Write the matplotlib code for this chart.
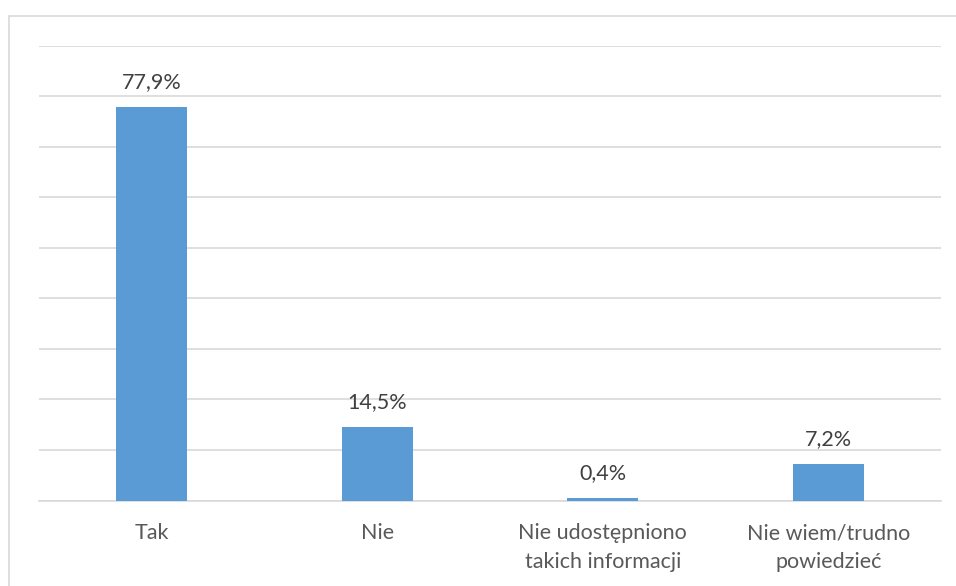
import numpy as np
import matplotlib
matplotlib.use("Agg")
import matplotlib.pyplot as plt
import matplotlib.patches as patches

# data
categories = ["Tak", "Nie", "Nie udostępniono\ntakich informacji", "Nie wiem/trudno\npowiedzieć"]
values = [77.9, 14.5, 0.4, 7.2]
value_labels = ["77,9%", "14,5%", "0,4%", "7,2%"]

plt.rcParams["font.family"] = ["Lato", "DejaVu Sans"]

W, H = 956, 586
fig = plt.figure(figsize=(W / 100, H / 100), dpi=100)

# outer chart frame (only left and top edges visible in the crop)
frame = patches.Rectangle(
    (9 / W, -0.1), 1.2, 1.1 - 16 / H,
    transform=fig.transFigure, fill=False, edgecolor="#d9d9d9", lw=1.2,
    clip_on=False,
)
fig.patches.append(frame)

left, right = 39, 941
top, base = 45.5, 500.5
ax = fig.add_axes([left / W, (H - base) / H, (right - left) / W, (base - top) / H])

x = np.arange(len(categories))
bars = ax.bar(x, values, width=0.315, color="#5b9bd5", zorder=3)

ax.set_xlim(-0.5, len(categories) - 0.5)
ax.set_ylim(0, 90)
ax.set_yticks(np.arange(0, 91, 10))
ax.yaxis.grid(True, color="#d9d9d9", lw=1.2, zorder=0)
ax.tick_params(axis="y", left=False, labelleft=False)
ax.tick_params(axis="x", length=0, pad=16.5, labelsize=15.5, labelcolor="#595959")
ax.set_xticks(x)
ax.set_xticklabels(categories, linespacing=1.55)

for s in ["left", "right", "top"]:
    ax.spines[s].set_visible(False)
ax.spines["bottom"].set_color("#d9d9d9")
ax.spines["bottom"].set_linewidth(1.2)

for xi, v, lab in zip(x, values, value_labels):
    ax.annotate(lab, (xi, v), xytext=(0, 15), textcoords="offset pixels",
                ha="center", va="bottom", fontsize=15.5, color="#404040")

fig.savefig("out.png", dpi=100)
